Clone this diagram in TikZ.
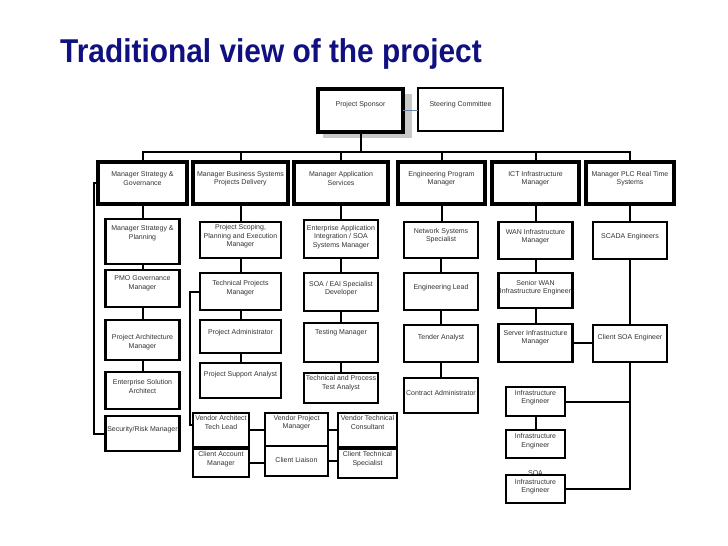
\documentclass[tikz,border=0pt]{standalone}
\usepackage{fontspec}
\setmainfont{Liberation Sans}
\definecolor{navy}{RGB}{16,16,128}
\definecolor{steel}{RGB}{100,130,170}
\definecolor{shadowgray}{RGB}{200,200,200}
\newcommand\bx[8]{%
  \node[#2, minimum width={#5-#3}, minimum height={#6-#4}] (#1) at ({(#3+#5)/2},{(#4+#6)/2}) {};
  \node[txt] (#1t) at ([yshift=#7pt]#1.center) {#8};
}
\begin{document}
\begin{tikzpicture}[x=1pt,y=-1pt,
  box/.style={draw=black, line width=2.2pt, fill=white, inner sep=0pt, outer sep=0pt},
  mbox/.style={box, line width=3.5pt},
  sbox/.style={box, line width=4pt},
  tbox/.style={box, line width=1.6pt},
  vbox/.style={box, line width=2pt},
  txt/.style={align=center, font=\fontsize{7}{8.6}\selectfont, text=black!80, inner sep=0pt},
  conn/.style={line width=2pt, line cap=rect}]
\useasboundingbox[fill=white] (0,0) rectangle (728,546);

\node[anchor=base west, inner sep=0pt, text=navy, font=\fontsize{33}{36}\selectfont\bfseries] (title) at (60,62) {\scalebox{0.905}[1]{Traditional view of the project}};

% shadow of sponsor
\fill[shadowgray] (323,94) rectangle (412,138);

% top
\bx{sp}{sbox}{318}{89}{403}{132}{5.5}{Project Sponsor}
\bx{st}{tbox}{418}{88}{503}{131}{4.5}{Steering Committee}

% managers
\bx{m1}{mbox}{98}{162}{187}{204}{4.5}{Manager Strategy \&\\Governance}
\bx{m2}{mbox}{193}{162}{288}{204}{4.5}{Manager Business Systems\\Projects Delivery}
\bx{m3}{mbox}{294}{162}{388}{204}{4.5}{Manager Application\\Services}
\bx{m4}{mbox}{398}{162}{485}{204}{4.5}{Engineering Program\\Manager}
\bx{m5}{mbox}{492}{162}{579}{204}{4.5}{ICT Infrastructure\\Manager}
\bx{m6}{mbox}{586}{162}{674}{204}{4.5}{Manager PLC Real Time\\Systems}

% column 1
\bx{c1a}{box}{105.5}{219}{179.5}{264}{8}{Manager Strategy \&\\Planning}
\bx{c1b}{box}{105.5}{270}{179.5}{307}{5}{PMO Governance\\Manager}
\bx{c1c}{box}{105.5}{320}{179.5}{360}{-2}{Project Architecture\\Manager}
\bx{c1d}{box}{105.5}{372}{179.5}{409}{4}{Enterprise Solution\\Architect}
\bx{c1e}{box}{105.5}{416}{179.5}{451}{4}{Security/Risk Manager}

% column 2
\bx{c2a}{box}{200}{222}{281}{258}{3.5}{Project Scoping,\\Planning and Execution\\Manager}
\bx{c2b}{box}{200}{273}{281}{310}{3.5}{Technical Projects\\Manager}
\bx{c2c}{box}{200}{320}{281}{353}{3.5}{Project Administrator}
\bx{c2d}{box}{200}{363}{281}{398}{5.5}{Project Support Analyst}

% column 3
\bx{c3a}{box}{304}{220}{378}{258}{2}{Enterprise Application\\Integration / SOA\\Systems Manager}
\bx{c3b}{box}{304}{273}{378}{311}{3.5}{SOA / EAI Specialist\\Developer}
\bx{c3c}{box}{304}{323}{378}{362}{10}{Testing Manager}
\bx{c3d}{box}{304}{373}{378}{403}{5}{Technical and Process\\Test Analyst}

% column 4
\bx{c4a}{box}{404}{222}{478}{258}{4.5}{Network Systems\\Specialist}
\bx{c4b}{box}{404}{273}{478}{310}{3.5}{Engineering Lead}
\bx{c4c}{box}{404}{325}{478}{362}{5.5}{Tender Analyst}
\bx{c4d}{box}{404}{378}{478}{413}{2.5}{Contract Administrator}

% column 5
\bx{c5a}{box}{498.5}{222}{572.5}{259}{4}{WAN Infrastructure\\Manager}
\bx{c5b}{box}{498.5}{273}{572.5}{308}{3}{Senior WAN\\Infrastructure Engineer}
\bx{c5c}{box}{498.5}{324}{572.5}{362}{5.5}{Server Infrastructure\\Manager}
\bx{c5d}{box}{506}{387}{565}{416}{4}{Infrastructure\\Engineer}
\bx{c5e}{box}{506}{430}{565}{458}{3}{Infrastructure\\Engineer}
\bx{c5f}{box}{506}{475}{565}{503}{6.5}{SOA\\Infrastructure\\Engineer}

% column 6
\bx{c6a}{box}{593}{222}{667}{259}{3.5}{SCADA Engineers}
\bx{c6b}{box}{593}{325}{667}{362}{5.5}{Client SOA Engineer}

% vendor / client
\bx{v1}{vbox}{193}{413}{249}{447}{7.5}{Vendor Architect\\Tech Lead}
\bx{v2}{vbox}{265}{413}{328}{447}{7.5}{Vendor Project\\Manager}
\bx{v3}{vbox}{338}{413}{397}{447}{7.5}{Vendor Technical\\Consultant}
\bx{k1}{vbox}{193}{449}{249}{477}{4}{Client Account\\Manager}
\bx{k2}{vbox}{265}{446}{328}{476}{1}{Client Liaison}
\bx{k3}{vbox}{338}{449}{397}{478}{4.5}{Client Technical\\Specialist}

% connectors
\coordinate (bus) at (0,152);
\draw[line width=1.5pt, steel] (sp.east) -- (sp.east -| st.west);
\draw[conn] (sp.south) -- (sp.south |- bus);
\draw[conn] (m1.north |- bus) -- (m6.north |- bus);
\foreach \m in {m1,m2,m3,m4,m5,m6} {\draw[conn] (\m.north) -- (\m.north |- bus);}

\foreach \a/\b in {m1/c1a,c1a/c1b,c1b/c1c,c1c/c1d,
                   m2/c2a,c2a/c2b,c2b/c2c,c2c/c2d,
                   m3/c3a,c3a/c3b,c3b/c3c,c3c/c3d,
                   m4/c4a,c4a/c4b,c4b/c4c,c4c/c4d,
                   m5/c5a,c5a/c5b,c5b/c5c,c5d/c5e,
                   m6/c6a,c6a/c6b,v1/k1}
  {\draw[conn] (\a.south) -- (\a.south |- \b.north);}

\draw[conn] (m1.west) -- ++(-4,0) |- (c1e.west);
\draw[conn] (c2b.west) -- ++(-10,0) |- ([yshift=5pt]v1.west);
\draw[conn] (c5c.east) -- (c5c.east -| c6b.west);
\draw[conn] (c6b.south) -- (c6b.south |- c5f.east);
\draw[conn] (c5d.east) -- (c5d.east -| c6b.south);
\draw[conn] (c5f.east) -- (c5f.east -| c6b.south);
\draw[conn] (v1.east) -- (v1.east -| v2.west);
\draw[conn] (v2.east) -- (v2.east -| v3.west);
\draw[conn] (k1.east) -- (k1.east -| k2.west);
\draw[conn] (k2.east) -- (k2.east -| k3.west);
\end{tikzpicture}
\end{document}
